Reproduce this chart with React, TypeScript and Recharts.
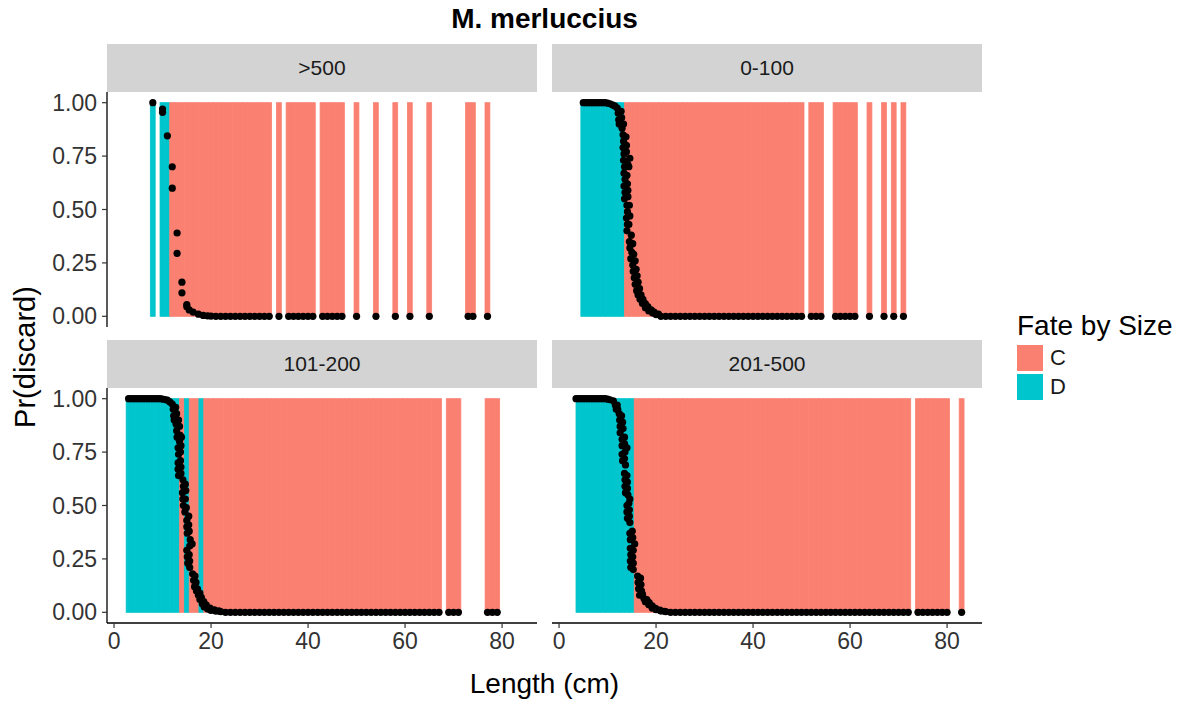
import React from 'react';
import { ComposedChart, Bar, Scatter, XAxis, YAxis } from 'recharts';

const FONT = '"Liberation Sans", Arial, Helvetica, sans-serif';
const FILL_C = '#FA8072';
const FILL_D = '#00C5CD';
const STRIP_BG = '#D3D3D3';

// facet labels
const facets = ['>500', '0-100', '101-200', '201-500'];

// length runs (cm) that have a bar, by fate
const dRunsOver500 = [[8, 8], [10, 11]];
const cRunsOver500 = [[12, 32], [34, 34], [36, 41], [43, 47], [50, 50], [54, 54], [58, 58], [61, 61], [65, 65], [73, 74], [77, 77]];
const dRuns0to100 = [[5, 13]];
const cRuns0to100 = [[14, 50], [52, 54], [57, 61], [64, 64], [67, 67], [69, 69], [71, 71]];
const dRuns101to200 = [[3, 13], [15, 15], [18, 18]];
const cRuns101to200 = [[14, 14], [16, 17], [19, 67], [69, 71], [77, 79]];
const dRuns201to500 = [[4, 15]];
const cRuns201to500 = [[16, 72], [74, 80], [83, 83]];

// Pr(discard) points [length, prob] on the falling part of the curve
const curveOver500 = [[8, 1], [10, 0.97], [10, 0.955], [11, 0.845], [12, 0.7], [12, 0.6], [13, 0.39], [13, 0.295], [14, 0.16], [14, 0.11], [15, 0.055], [15, 0.045], [15.5, 0.03], [16.3, 0.02], [17.4, 0.01], [18.4, 0.004], [19.3, 0.002], [20, 0.001]];
const curve0to100 = [[5, 1], [5.5, 1], [6, 1], [6.5, 1], [7, 1], [7.5, 1], [8, 1], [8.5, 1], [9, 1], [9.5, 1], [10, 0.998], [10.5, 0.995], [11, 0.99], [11.5, 0.985], [12, 0.975], [12.2, 0.95], [12.3, 0.92], [12.4, 0.9], [13, 0.88], [13.2, 0.85], [13.3, 0.82], [13.2, 0.79], [13.4, 0.76], [14.2, 0.71], [13.3, 0.73], [13.5, 0.7], [13.4, 0.67], [13.6, 0.64], [13.4, 0.61], [13.6, 0.58], [13.5, 0.55], [14, 0.52], [14.1, 0.49], [13.9, 0.46], [14.1, 0.43], [14, 0.4], [14.5, 0.35], [14.6, 0.32], [15, 0.3], [14.8, 0.27], [15.2, 0.24], [15.3, 0.21], [15.5, 0.18], [15.7, 0.15], [16, 0.12], [16.3, 0.1], [16.7, 0.08], [17.2, 0.06], [17.8, 0.04], [18.5, 0.025], [19.3, 0.015], [20, 0.008]];
const spread0to100 = [[12.8, 0.96], [12.9, 0.93], [13.3, 0.9], [13.8, 0.84], [13.9, 0.8], [13.9, 0.77], [14.6, 0.74], [14.4, 0.7], [14, 0.66], [14.1, 0.62], [14.2, 0.59], [14.2, 0.56], [14.5, 0.52], [14.6, 0.47], [14.4, 0.43], [14.9, 0.38], [15.2, 0.34], [15.4, 0.29], [15.7, 0.26], [15.9, 0.22], [16.1, 0.19], [16.3, 0.16], [16.6, 0.13], [16.9, 0.1], [17.3, 0.08], [17.8, 0.06], [18.3, 0.045], [19, 0.03], [19.6, 0.02], [20.5, 0.01]];
const curve101to200 = [[3, 1], [3.5, 1], [4, 1], [4.5, 1], [5, 1], [5.5, 1], [6, 1], [6.5, 1], [7, 1], [7.5, 1], [8, 1], [8.5, 1], [9, 1], [9.5, 1], [10, 0.998], [10.5, 0.996], [11, 0.993], [11.5, 0.985], [12, 0.975], [12.2, 0.95], [12.3, 0.92], [12.4, 0.9], [12.8, 0.88], [12.9, 0.85], [13, 0.82], [13.6, 0.83], [13.5, 0.8], [13.2, 0.77], [13.3, 0.74], [13.2, 0.7], [13.2, 0.67], [13.3, 0.64], [14.2, 0.62], [14.3, 0.59], [14.1, 0.56], [14.2, 0.53], [14.3, 0.5], [14.6, 0.47], [15, 0.43], [15, 0.4], [15.1, 0.37], [15.7, 0.34], [15.6, 0.31], [15, 0.29], [15.1, 0.26], [15.2, 0.23], [16.2, 0.18], [16.4, 0.15], [16.6, 0.12], [17, 0.1], [17.4, 0.08], [17.7, 0.06], [18.2, 0.04], [18.6, 0.025], [19.3, 0.015], [20, 0.009], [21, 0.005], [22, 0.003]];
const spread101to200 = [[12.7, 0.96], [12.9, 0.93], [13.3, 0.9], [13.5, 0.87], [13.9, 0.82], [13.8, 0.78], [13.7, 0.75], [13.7, 0.71], [13.8, 0.68], [13.8, 0.65], [14.7, 0.6], [14.8, 0.57], [14.7, 0.53], [14.9, 0.49], [15.4, 0.45], [15.4, 0.41], [15.5, 0.38], [16.1, 0.32], [15.5, 0.27], [15.6, 0.24], [15.6, 0.21], [16.7, 0.17], [16.9, 0.14], [17.2, 0.11], [17.7, 0.09], [18, 0.07], [18.5, 0.05], [19, 0.035], [19.8, 0.02], [20.7, 0.012], [21.6, 0.007]];
const curve201to500 = [[3.5, 1], [4, 1], [4.5, 1], [5, 1], [5.5, 1], [6, 1], [6.5, 1], [7, 1], [7.5, 1], [8, 1], [8.5, 1], [9, 1], [9.5, 1], [10, 0.998], [10.5, 0.995], [11.2, 0.99], [11.6, 0.97], [11.8, 0.95], [12.4, 0.93], [12.5, 0.9], [12.6, 0.87], [12.6, 0.84], [13, 0.81], [13, 0.78], [14, 0.77], [13, 0.74], [13.1, 0.71], [13.5, 0.65], [13.6, 0.62], [13.6, 0.59], [13.7, 0.56], [14.6, 0.53], [14, 0.5], [14, 0.47], [14.1, 0.44], [14.6, 0.37], [14.7, 0.34], [15.6, 0.32], [14.7, 0.3], [14.8, 0.27], [14.7, 0.24], [14.8, 0.21], [16.2, 0.17], [16.3, 0.14], [16.4, 0.11], [16.6, 0.08], [17.5, 0.065], [17.8, 0.05], [18.5, 0.035], [19.2, 0.02], [20, 0.012], [21, 0.006], [22, 0.003]];
const spread201to500 = [[12, 0.97], [12.1, 0.95], [12.9, 0.92], [13.1, 0.89], [13.2, 0.86], [13.5, 0.82], [13.5, 0.79], [13.6, 0.75], [13.5, 0.72], [13.7, 0.69], [14, 0.64], [14.1, 0.61], [14.1, 0.58], [14.2, 0.55], [14.4, 0.51], [14.5, 0.48], [14.5, 0.45], [14.6, 0.42], [15.1, 0.38], [15.2, 0.35], [15.3, 0.29], [15.2, 0.26], [15.3, 0.23], [15.3, 0.2], [16.8, 0.16], [16.9, 0.13], [17, 0.1], [17.2, 0.085], [18.1, 0.06], [18.6, 0.045], [19.2, 0.03], [19.9, 0.018], [20.8, 0.01], [21.7, 0.005]];

// lengths where the prediction sits at 0.00
const zeroRunsOver500 = [[21, 32], [34, 34], [36, 41], [43, 47], [50, 50], [54, 54], [58, 58], [61, 61], [65, 65], [73, 74], [77, 77]];
const zeroRuns0to100 = [[21, 50], [52, 54], [57, 61], [64, 64], [67, 67], [69, 69], [71, 71]];
const zeroRuns101to200 = [[23, 67], [69, 71], [77, 79]];
const zeroRuns201to500 = [[23, 72], [74, 80], [83, 83]];

const X_TICKS = [0, 20, 40, 60, 80];
const Y_TICKS = [0, 0.25, 0.5, 0.75, 1];
const X_DOMAIN: [number, number] = [-1.45, 87.2];
const Y_DOMAIN: [number, number] = [-0.05, 1.05];

// layout
const PANEL_W = 430;
const PANEL_H = 235;
const COL_X = [107, 552];
const ROW_Y = [92, 388];
const STRIP_H = 48;
const Y_AXIS_W = 100;
const X_AXIS_H = 45;
const PAD = 14; // room so edge tick labels stay inside the svg
const BAR_PX = PANEL_W / (X_DOMAIN[1] - X_DOMAIN[0]); // one cm wide

const expand = (runs: number[][]) => {
  const out: number[] = [];
  runs.forEach(([a, b]) => {
    for (let l = a; l <= b; l++) out.push(l);
  });
  return out;
};

const buildBars = (dRuns: number[][], cRuns: number[][]) =>
  [
    ...expand(dRuns).map((len) => ({ len, v: 1, fate: 'D' })),
    ...expand(cRuns).map((len) => ({ len, v: 1, fate: 'C' })),
  ].sort((a, b) => a.len - b.len);

const buildPoints = (curve: number[][], zeroRuns: number[][]) => [
  ...curve.map(([len, y]) => ({ len, y })),
  ...expand(zeroRuns).map((len) => ({ len, y: 0 })),
];

const panels = [
  { label: facets[0], col: 0, row: 0, bars: buildBars(dRunsOver500, cRunsOver500), points: buildPoints(curveOver500, zeroRunsOver500) },
  { label: facets[1], col: 1, row: 0, bars: buildBars(dRuns0to100, cRuns0to100), points: buildPoints([...curve0to100, ...spread0to100], zeroRuns0to100) },
  { label: facets[2], col: 0, row: 1, bars: buildBars(dRuns101to200, cRuns101to200), points: buildPoints([...curve101to200, ...spread101to200], zeroRuns101to200) },
  { label: facets[3], col: 1, row: 1, bars: buildBars(dRuns201to500, cRuns201to500), points: buildPoints([...curve201to500, ...spread201to500], zeroRuns201to500) },
];

// bar centred on its length, a full cm wide
const FateBar = (props: any) => {
  const { x, y, width, height, payload } = props;
  if (x == null || y == null || height == null) return null;
  const cx = x + (width || 0) / 2;
  const c = payload && payload.fate === 'D' ? FILL_D : FILL_C;
  return <rect x={cx - BAR_PX / 2} y={y} width={BAR_PX} height={height} fill={c} stroke={c} strokeWidth={0.8} />;
};

const Dot = (props: any) => {
  if (props.cx == null || props.cy == null) return null;
  return <circle cx={props.cx} cy={props.cy} r={3.6} fill="#000" />;
};

const tickStyle = { fontSize: 23, fill: '#333', fontFamily: FONT };

const FacetPanel = ({ label, col, row, bars, points }: any) => {
  const showY = col === 0;
  const showX = row === 1;
  const w = PANEL_W + (showY ? Y_AXIS_W : 0);
  const h = PANEL_H + PAD * 2 + (showX ? X_AXIS_H : 0);
  return (
    <>
      <div
        style={{
          position: 'absolute',
          left: COL_X[col],
          top: ROW_Y[row] - STRIP_H,
          width: PANEL_W,
          height: STRIP_H,
          background: STRIP_BG,
          display: 'flex',
          alignItems: 'center',
          justifyContent: 'center',
          fontSize: 21,
          color: '#1a1a1a',
        }}
      >
        {label}
      </div>
      <div style={{ position: 'absolute', left: COL_X[col] - (showY ? Y_AXIS_W : 0), top: ROW_Y[row] - PAD }}>
        <ComposedChart width={w} height={h} data={bars} margin={{ top: PAD, right: 0, bottom: PAD, left: 0 }}>
          <XAxis
            type="number"
            dataKey="len"
            domain={X_DOMAIN}
            allowDataOverflow
            ticks={X_TICKS}
            hide={!showX}
            height={X_AXIS_H}
            tick={tickStyle}
            tickSize={5}
            tickMargin={5}
            axisLine={{ stroke: '#000', strokeWidth: 1.3 }}
            tickLine={{ stroke: '#333', strokeWidth: 1.2 }}
            interval={0}
          />
          <YAxis
            type="number"
            domain={Y_DOMAIN}
            allowDataOverflow
            ticks={Y_TICKS}
            hide={!showY}
            width={Y_AXIS_W}
            tick={tickStyle}
            tickSize={5}
            tickMargin={5}
            tickFormatter={(v: number) => v.toFixed(2)}
            axisLine={{ stroke: '#000', strokeWidth: 1.3 }}
            tickLine={{ stroke: '#333', strokeWidth: 1.2 }}
            interval={0}
          />
          <Bar dataKey="v" shape={<FateBar />} isAnimationActive={false} />
          <Scatter data={points} dataKey="y" shape={<Dot />} isAnimationActive={false} />
        </ComposedChart>
      </div>
    </>
  );
};

export default function App() {
  return (
    <div
      style={{
        position: 'absolute',
        left: 0,
        top: 0,
        width: 1189,
        height: 704,
        background: '#fff',
        fontFamily: FONT,
      }}
    >
      <div
        style={{
          position: 'absolute',
          left: COL_X[0],
          width: COL_X[1] + PANEL_W - COL_X[0],
          top: 3,
          textAlign: 'center',
          fontSize: 28,
          fontWeight: 'bold',
          color: '#000',
        }}
      >
        M. merluccius
      </div>

      {panels.map((p) => (
        <FacetPanel key={p.label} {...p} />
      ))}

      <div
        style={{
          position: 'absolute',
          left: COL_X[0],
          width: COL_X[1] + PANEL_W - COL_X[0],
          top: 668,
          textAlign: 'center',
          fontSize: 28,
          color: '#000',
        }}
      >
        Length (cm)
      </div>

      <div
        style={{
          position: 'absolute',
          left: 25,
          top: 357,
          transform: 'translate(-50%, -50%) rotate(-90deg)',
          fontSize: 29,
          color: '#000',
          whiteSpace: 'nowrap',
        }}
      >
        Pr(discard)
      </div>

      <div style={{ position: 'absolute', left: 1017, top: 310, fontSize: 28, color: '#000', whiteSpace: 'nowrap' }}>
        Fate by Size
      </div>
      {[
        { name: 'C', color: FILL_C },
        { name: 'D', color: FILL_D },
      ].map((item, i) => (
        <div key={item.name} style={{ position: 'absolute', left: 1017, top: 345 + i * 29, display: 'flex', alignItems: 'center' }}>
          <div style={{ width: 26, height: 26, background: item.color }} />
          <span style={{ marginLeft: 7, fontSize: 22, color: '#1a1a1a' }}>{item.name}</span>
        </div>
      ))}
    </div>
  );
}
